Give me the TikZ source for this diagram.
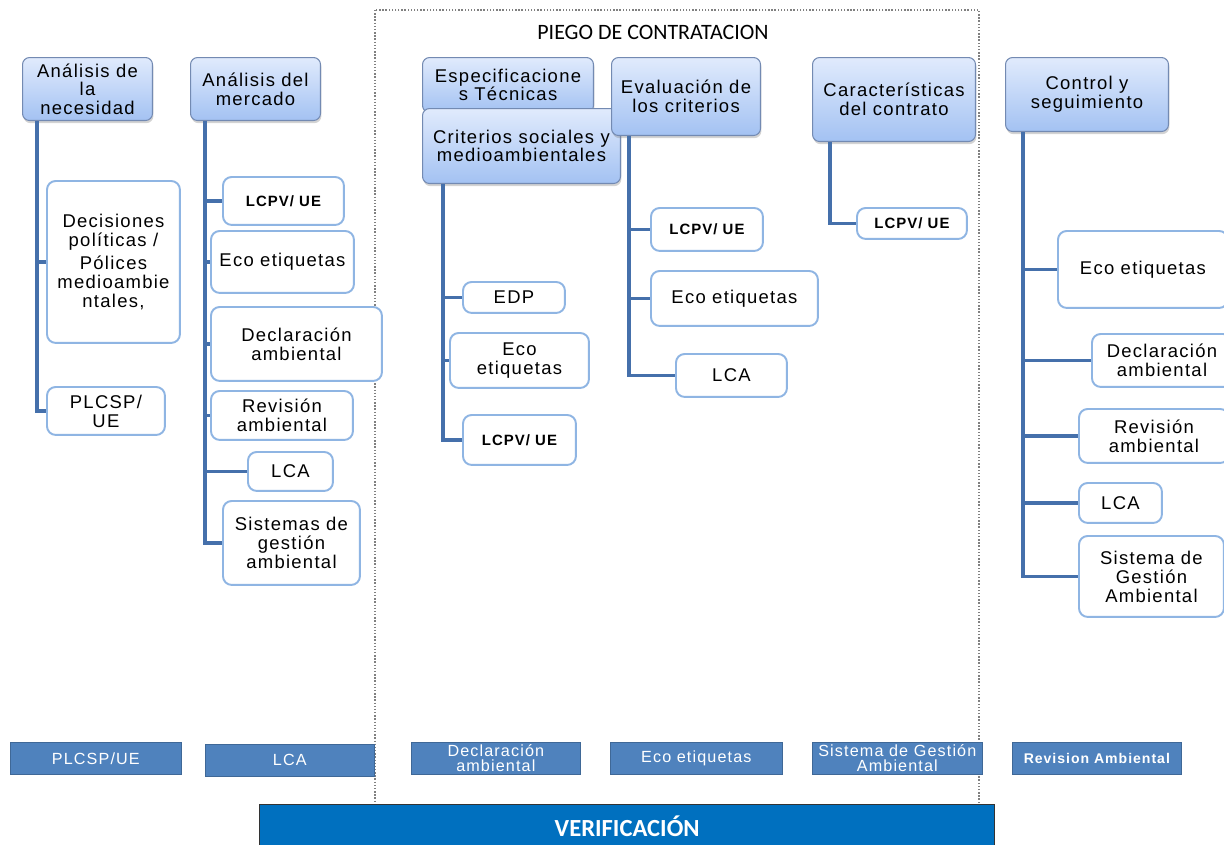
\documentclass[tikz,border=0pt]{standalone}
\usepackage{fontspec}
\setmainfont{Liberation Sans}
\newfontfamily\boxfont[LetterSpace=7]{Liberation Sans}
\newfontfamily\titlefont{Carlito}
\usepackage{tikz}
\usetikzlibrary{positioning, shapes, arrows.meta, shadows, calc}
\definecolor{headtop}{rgb}{0.88,0.92,0.99}
\definecolor{headbot}{rgb}{0.64,0.76,0.95}
\definecolor{headline}{rgb}{0.45,0.54,0.70}
\definecolor{itemline}{rgb}{0.56,0.71,0.89}
\definecolor{trunk}{rgb}{0.27,0.44,0.67}
\definecolor{bottomblue}{rgb}{0.31,0.51,0.74}
\definecolor{verifblue}{rgb}{0.0,0.44,0.75}
\tikzstyle{hd}=[%
      rectangle, rounded corners=4pt, draw=headline, line width=0.6pt,
      top color=headtop, bottom color=headbot,
      drop shadow={opacity=0.35, shadow xshift=0.5pt, shadow yshift=-1.5pt},
      anchor=north west, inner sep=1pt, align=center,
      font=\boxfont\fontsize{10.5}{10.6}\selectfont
]
\tikzstyle{it}=[%
      rectangle, rounded corners=5pt, draw=itemline, line width=1.1pt, fill=white,
      anchor=north west, inner sep=1pt, align=center,
      font=\boxfont\fontsize{10.5}{10.8}\selectfont
]
\tikzstyle{sm}=[%
      it, font=\boxfont\bfseries\fontsize{8.5}{9}\selectfont
]
\tikzstyle{bt}=[%
      rectangle, draw=bottomblue!80!black, line width=0.4pt, fill=bottomblue, text=white,
      anchor=north west, minimum height=0.64cm, inner sep=0pt, align=center,
      font=\boxfont\fontsize{9.2}{8.6}\selectfont
]
\tikzstyle{vf}=[%
      rectangle, draw=black!80, line width=0.8pt, fill=verifblue, text=white,
      anchor=north west, inner sep=0pt,
      font=\titlefont\bfseries\fontsize{14}{16}\selectfont
]
\tikzstyle{br}=[%
      draw=trunk, line width=2.2pt, line join=miter
]

\begin{document}
\begin{tikzpicture}[x=0.02cm, y=-0.02cm]
    \useasboundingbox (0,0) rectangle (1224,845);

    % pliego frame
    \draw[gray, line width=0.8pt, densely dotted] (375,10) rectangle (979,805);
    \node[font=\titlefont\fontsize{12.5}{14}\selectfont] (title) at (653,32) {PIEGO DE CONTRATACION};

    % heads
    \node[hd, minimum width=2.6cm, minimum height=1.26cm]  (h1)  at (22,57)   {Análisis de\\la\\necesidad};
    \node[hd, minimum width=2.6cm, minimum height=1.26cm]  (h2)  at (190,57)  {Análisis del\\mercado};
    \node[hd, minimum width=3.42cm, minimum height=1.1cm]  (h3a) at (422,57)  {Especificacione\\s Técnicas};
    \node[hd, minimum width=3.96cm, minimum height=1.5cm]  (h3)  at (422,108) {Criterios sociales y\\medioambientales};
    \node[hd, minimum width=2.98cm, minimum height=1.56cm] (h4)  at (611,57)  {Evaluación de\\los criterios};
    \node[hd, minimum width=3.26cm, minimum height=1.68cm] (h5)  at (812,57)  {Características\\del contrato};
    \node[hd, minimum width=3.26cm, minimum height=1.48cm] (h6)  at (1005,57) {Control y\\seguimiento};

    % items
    \node[it, minimum width=2.66cm, minimum height=3.24cm] (a1) at (46,180)  {Decisiones\\políticas /\\[2pt]Pólices\\medioambie\\ntales,};
    \node[it, minimum width=2.36cm, minimum height=0.96cm] (a2) at (46,386)  {PLCSP/\\UE};

    \node[sm, minimum width=2.42cm, minimum height=0.96cm] (b1) at (222,176) {LCPV/ UE};
    \node[it, minimum width=2.86cm, minimum height=1.24cm] (b2) at (210,230) {Eco etiquetas};
    \node[it, minimum width=3.42cm, minimum height=1.48cm] (b3) at (210,306) {Declaración\\ambiental};
    \node[it, minimum width=2.84cm, minimum height=0.98cm] (b4) at (210,390) {Revisión\\ambiental};
    \node[it, minimum width=1.7cm, minimum height=0.78cm]  (b5) at (247,451) {LCA};
    \node[it, minimum width=2.74cm, minimum height=1.68cm] (b6) at (222,500) {Sistemas de\\gestión\\ambiental};

    \node[it, minimum width=2.04cm, minimum height=0.62cm] (c1) at (462,281) {EDP};
    \node[it, minimum width=2.78cm, minimum height=1.1cm]  (c2) at (449,332) {Eco\\etiquetas};
    \node[sm, minimum width=2.26cm, minimum height=1.0cm]  (c3) at (462,414) {LCPV/ UE};

    \node[sm, minimum width=2.24cm, minimum height=0.86cm] (d1) at (650,207) {LCPV/ UE};
    \node[it, minimum width=3.34cm, minimum height=1.1cm]  (d2) at (650,270) {Eco etiquetas};
    \node[it, minimum width=2.22cm, minimum height=0.86cm] (d3) at (675,353) {LCA};

    \node[sm, minimum width=2.2cm, minimum height=0.62cm]  (e1) at (856,207) {LCPV/ UE};

    \node[it, minimum width=3.4cm, minimum height=1.54cm]  (f1) at (1057,230) {Eco etiquetas};
    \node[it, minimum width=2.8cm, minimum height=1.06cm]  (f2) at (1091,333) {Declaración\\ambiental};
    \node[it, minimum width=3.0cm, minimum height=1.08cm]  (f3) at (1078,408) {Revisión\\ambiental};
    \node[it, minimum width=1.66cm, minimum height=0.8cm]  (f4) at (1078,482) {LCA};
    \node[it, minimum width=2.9cm, minimum height=1.62cm]  (f5) at (1078,535) {Sistema de\\Gestión\\Ambiental};

    % branches
    \foreach \i in {a1,a2} \draw[br] ($(h1.south west)+(15,0)$) |- (\i.west);
    \foreach \i in {b1,b2,b3,b4,b5,b6} \draw[br] ($(h2.south west)+(15,0)$) |- (\i.west);
    \foreach \i in {c1,c2,c3} \draw[br] ($(h3.south west)+(21,0)$) |- (\i.west);
    \foreach \i in {d1,d2,d3} \draw[br] ($(h4.south west)+(18,0)$) |- (\i.west);
    \draw[br] ($(h5.south west)+(18,0)$) |- (e1.west);
    \foreach \i in {f1,f2,f3,f4,f5} \draw[br] ($(h6.south west)+(18,0)$) |- (\i.west);

    % verification row
    \node[bt, minimum width=3.42cm] (g1) at (10,742)   {PLCSP/UE};
    \node[bt, minimum width=3.38cm] (g2) at (205,744)  {LCA};
    \node[bt, minimum width=3.38cm] (g3) at (411,742)  {Declaración\\ambiental};
    \node[bt, minimum width=3.44cm] (g4) at (610,742)  {Eco etiquetas};
    \node[bt, minimum width=3.4cm]  (g5) at (812,742)  {Sistema de  Gestión\\Ambiental};
    \node[bt, minimum width=3.38cm, font=\boxfont\bfseries\fontsize{8}{9}\selectfont] (g6) at (1012,742) {Revision Ambiental};

    \node[vf, minimum width=14.7cm, minimum height=0.86cm] (vf) at (259,804) {VERIFICACIÓN};
\end{tikzpicture}
\end{document}
